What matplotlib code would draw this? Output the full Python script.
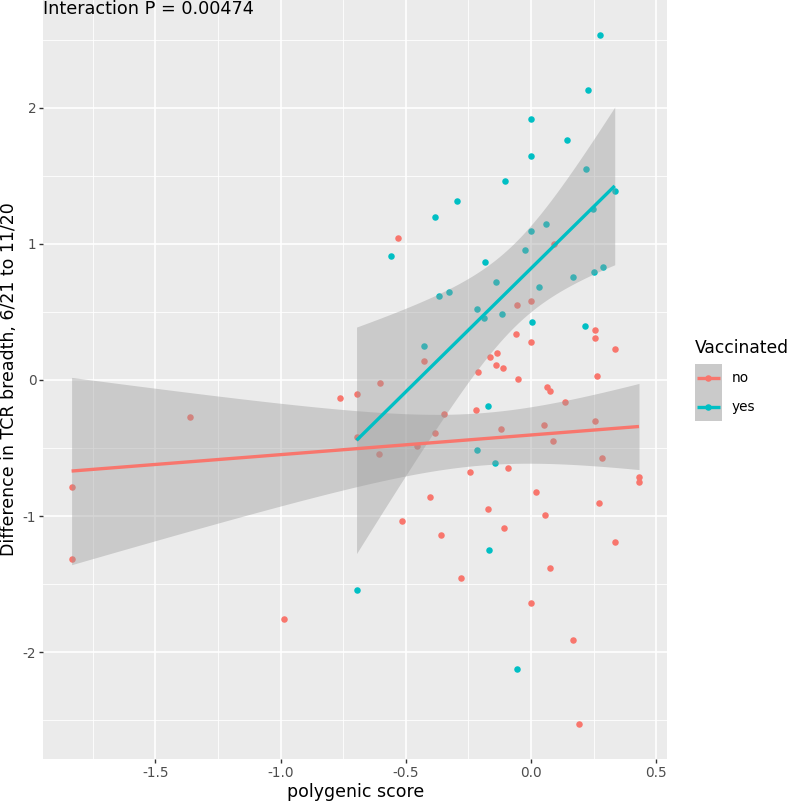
import numpy as np
import matplotlib
matplotlib.use("Agg")
import matplotlib.pyplot as plt

# data (polygenic score vs TCR breadth difference)
no_x = [-1.835, -1.835, -1.363, -0.985, -0.762, -0.697, -0.604, -0.530, 0.091, -0.058,
        0.000, -0.062, 0.000, 0.256, 0.257, 0.336, -0.429, -0.166, -0.138, -0.142,
        -0.114, -0.210, -0.054, 0.265, 0.065, 0.075, -0.218, -0.347, 0.136, -0.121,
        0.052, 0.256, -0.697, -0.385, 0.088, -0.455, -0.606, -0.093, 0.282, -0.244,
        0.431, 0.431, 0.020, -0.405, 0.273, -0.174, 0.056, -0.514, -0.109, -0.358,
        0.334, 0.076, -0.280, 0.000, 0.168, 0.190]
no_y = [-0.787, -1.314, -0.274, -1.760, -0.130, -0.105, -0.022, 1.044, 0.998, 0.549,
        0.583, 0.338, 0.279, 0.368, 0.309, 0.226, 0.140, 0.169, 0.196, 0.113,
        0.086, 0.059, 0.005, 0.032, -0.049, -0.079, -0.218, -0.248, -0.162, -0.363,
        -0.333, -0.304, -0.422, -0.392, -0.451, -0.483, -0.544, -0.645, -0.576, -0.679,
        -0.711, -0.748, -0.824, -0.863, -0.904, -0.946, -0.990, -1.037, -1.086, -1.137,
        -1.191, -1.382, -1.458, -1.642, -1.909, -2.532]

yes_x = [0.274, 0.228, -0.001, 0.144, 0.000, 0.220, -0.104, 0.334, -0.296, -0.382,
         0.248, 0.059, 0.000, -0.024, -0.558, -0.184, 0.288, 0.253, 0.168, -0.142,
         0.031, -0.326, -0.369, -0.217, -0.116, -0.190, 0.005, 0.214, -0.429, -0.172,
         -0.217, -0.146, -0.169, -0.697, -0.058]
yes_y = [2.539, 2.130, 1.917, 1.767, 1.647, 1.549, 1.463, 1.387, 1.319, 1.199,
         1.255, 1.145, 1.093, 0.953, 0.912, 0.870, 0.831, 0.792, 0.755, 0.718,
         0.684, 0.649, 0.615, 0.520, 0.488, 0.458, 0.426, 0.397, 0.252, -0.191,
         -0.515, -0.610, -1.250, -1.544, -2.123]

groups = ["no", "yes"]
colors = {"no": "#F8766D", "yes": "#00BFC4"}
interaction_p = "0.00474"


def t_quantile(df, z=1.959964):
    # Cornish-Fisher approximation of the 97.5% t quantile
    return (z + (z**3 + z) / (4 * df) + (5 * z**5 + 16 * z**3 + 3 * z) / (96 * df**2)
            + (3 * z**7 + 19 * z**5 + 17 * z**3 - 15 * z) / (384 * df**3))


def lm_band(x, y, n=80):
    x = np.asarray(x)
    y = np.asarray(y)
    b1, b0 = np.polyfit(x, y, 1)
    res = y - (b0 + b1 * x)
    df = len(x) - 2
    s = np.sqrt(np.sum(res**2) / df)
    xs = np.linspace(x.min(), x.max(), n)
    se = s * np.sqrt(1.0 / len(x) + (xs - x.mean())**2 / np.sum((x - x.mean())**2))
    fit = b0 + b1 * xs
    t = t_quantile(df)
    return xs, fit, fit - t * se, fit + t * se


W, H = 791, 801
fig = plt.figure(figsize=(W / 100, H / 100), dpi=100)
plt.rcParams['font.family'] = ['DejaVu Sans']

ax = fig.add_axes([43.3 / W, (H - 759) / H, (667.3 - 43.3) / W, 759 / H])
ax.set_facecolor("#EBEBEB")
for sp in ax.spines.values():
    sp.set_visible(False)

data = {"no": (no_x, no_y), "yes": (yes_x, yes_y)}

# points first, smooths on top (ggplot layer order)
for g in groups:
    ax.scatter(data[g][0], data[g][1], s=22, color=colors[g], linewidths=0, zorder=3)

for g in groups:
    xs, fit, lo, hi = lm_band(*data[g])
    ax.fill_between(xs, lo, hi, color="#999999", alpha=0.4, linewidth=0, zorder=4)
for g in groups:
    xs, fit, lo, hi = lm_band(*data[g])
    ax.plot(xs, fit, color=colors[g], lw=2.4, zorder=5, solid_capstyle="butt")

ax.set_xlim(-1.948, 0.544)
ax.set_ylim(-2.786, 2.793)
ax.set_xticks([-1.5, -1.0, -0.5, 0.0, 0.5])
ax.set_xticklabels(["-1.5", "-1.0", "-0.5", "0.0", "0.5"])
ax.set_yticks([-2, -1, 0, 1, 2])
ax.set_yticklabels(["-2", "-1", "0", "1", "2"])
ax.set_xticks([-1.75, -1.25, -0.75, -0.25, 0.25], minor=True)
ax.set_yticks([-2.5, -1.5, -0.5, 0.5, 1.5, 2.5], minor=True)
ax.grid(which="major", color="white", lw=1.2)
ax.grid(which="minor", color="white", lw=0.6)
ax.set_axisbelow(True)
ax.tick_params(which="major", length=3, width=1.0, color="#333333",
               labelcolor="#4D4D4D", labelsize=9.8, pad=2)
ax.tick_params(which="minor", length=0)

ax.set_xlabel("polygenic score", fontsize=12.5, labelpad=2)
fig.text(9 / W, (H - 379.5) / H, "Difference in TCR breadth, 6/21 to 11/20",
         rotation=90, ha="center", va="center", fontsize=12.5)

fig.text(43.3 / W, (H - 14.5) / H, "Interaction P = " + interaction_p,
         ha="left", va="baseline", fontsize=12.7)

# legend drawn by hand like ggplot's
fig.text(695 / W, (H - 348) / H, "Vaccinated", ha="left", va="center", fontsize=12.3)
lax = fig.add_axes([695 / W, (H - 421.4) / H, 26.7 / W, 57.4 / H])
lax.set_facecolor("#CACACA")
lax.set_xlim(0, 1)
lax.set_ylim(0, 2)
lax.set_xticks([])
lax.set_yticks([])
for sp in lax.spines.values():
    sp.set_visible(False)
for i, g in enumerate(groups):
    yy = 1.5 - i
    lax.plot([0.06, 0.94], [yy, yy], color=colors[g], lw=2.4, solid_capstyle="butt")
    lax.scatter([0.5], [yy], s=22, color=colors[g], linewidths=0, zorder=3)
    fig.text(731.7 / W, (H - 378 - 28.7 * i) / H, g, ha="left", va="center", fontsize=9.8)

fig.savefig("out.png", dpi=100)
